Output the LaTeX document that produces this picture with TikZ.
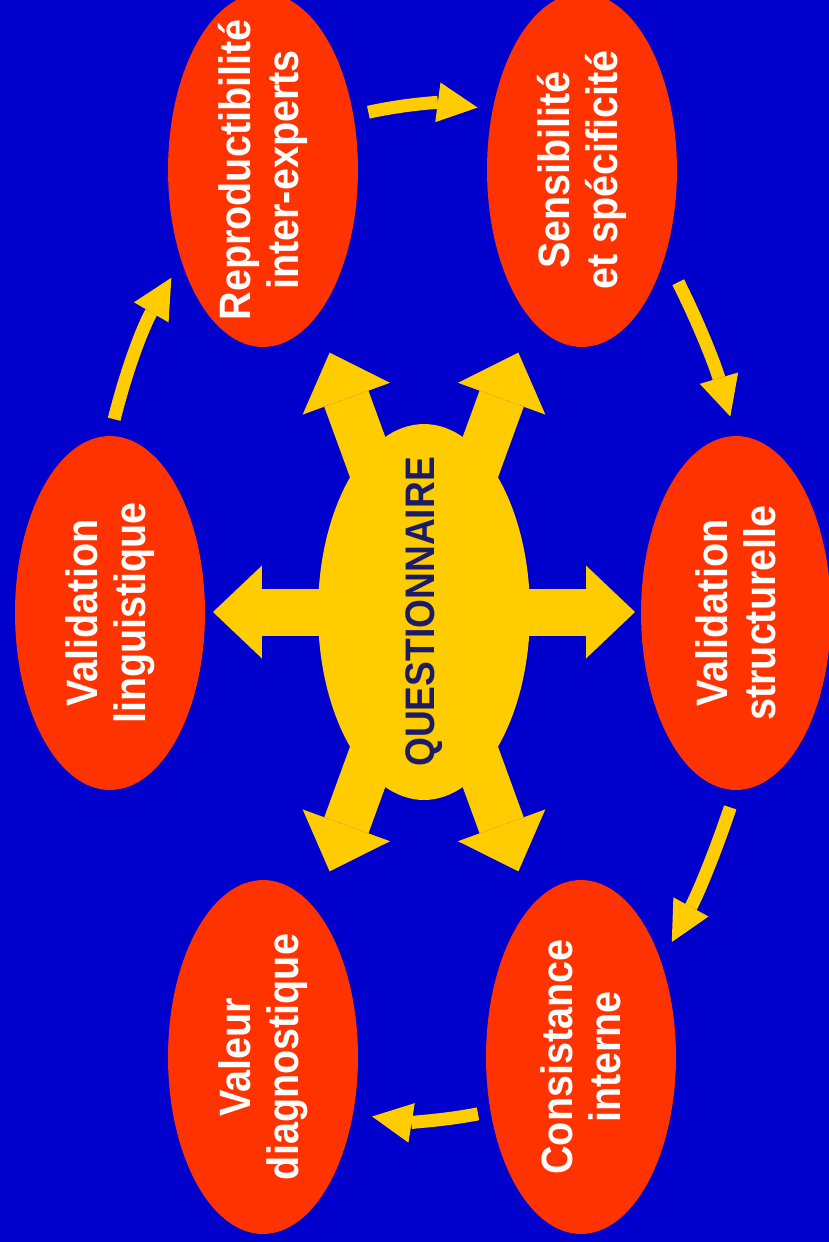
\documentclass[tikz,border=0pt]{standalone}
\usepackage{fontspec}
\setmainfont{Liberation Sans}[FakeStretch=0.9]
\usetikzlibrary{shapes.geometric, arrows.meta}
\definecolor{slideblue}{HTML}{0000CC}
\definecolor{bubblered}{HTML}{FF3300}
\definecolor{gold}{HTML}{FFCC00}
\definecolor{inkblue}{HTML}{1C1C66}
\tikzset{bubble/.style={ellipse, fill=bubblered, minimum width=3.8cm, minimum height=7.08cm, inner sep=0pt}}
\tikzset{bubtext/.style={rotate=90, text=white, align=center, font=\fontsize{25}{27.5}\selectfont\bfseries}}
\tikzset{hub/.style={ellipse, fill=gold, minimum width=4.24cm, minimum height=7.52cm, inner sep=0pt}}
\tikzset{hubtext/.style={rotate=90, text=inkblue, font=\fontsize{23.5}{26}\selectfont\bfseries}}
\tikzset{bigarrow/.style={gold, line width=0.94cm, shorten <=-0.4cm, -{Triangle[length=0.98cm, width=1.86cm, line width=0pt]}}}
\tikzset{flow/.style={gold, line width=0.26cm, -{Triangle[length=0.8cm, width=0.8cm, line width=0pt]}}}

\begin{document}
\begin{tikzpicture}[x=0.02cm, y=0.02cm]
\useasboundingbox (0,0) rectangle (829,-1242);
\clip (0,0) rectangle (829,-1242);
\fill[slideblue] (0,0) rectangle (829,-1242);

% the six steps
\node[bubble, label={[bubtext]center:{Reproductibilité\\inter-experts}}] (repro) at (263,-170) {};
\node[bubble, label={[bubtext]center:{Sensibilité\\et spécificité}}] (sensib) at (582,-170) {};
\node[bubble, label={[bubtext]center:{Validation\\linguistique}}] (ling) at (110,-613) {};
\node[bubble, label={[bubtext]center:{Validation\\structurelle}}] (struct) at (736,-613) {};
\node[bubble, label={[bubtext]center:{Valeur\\diagnostique}}] (valeur) at (263,-1057) {};
\node[bubble, label={[bubtext]center:{Consistance\\interne}}] (consist) at (581,-1057) {};

% centre
\node[hub, label={[hubtext]center:QUESTIONNAIRE}] (quest) at (424,-612) {};
\foreach \a/\r in {0/211, 70/276, 110/276, 180/211, 250/276, 290/276}{
  \path (quest.center) ++(\a:\r) coordinate (tip\a);
  \draw[bigarrow] (quest.\a) -- (tip\a);
}

% cycle
\draw[flow, shorten <=0.34cm, shorten >=0.39cm] (ling.north) to[bend left=8] (repro.228);
\draw[flow, shorten <=0.3cm, shorten >=0.3cm] (repro.31) to[bend left=10] (sensib.146);
\draw[flow, shorten <=0.58cm, shorten >=0.4cm] (sensib.314) to[bend left=5] (struct.north);
\draw[flow, shorten <=0.36cm, shorten >=0.44cm] (struct.south) to[bend left=5] (consist.50);
\draw[flow, shorten <=0.25cm, shorten >=0.38cm] (consist.211) to[bend left=10] (valeur.328);
\end{tikzpicture}
\end{document}
